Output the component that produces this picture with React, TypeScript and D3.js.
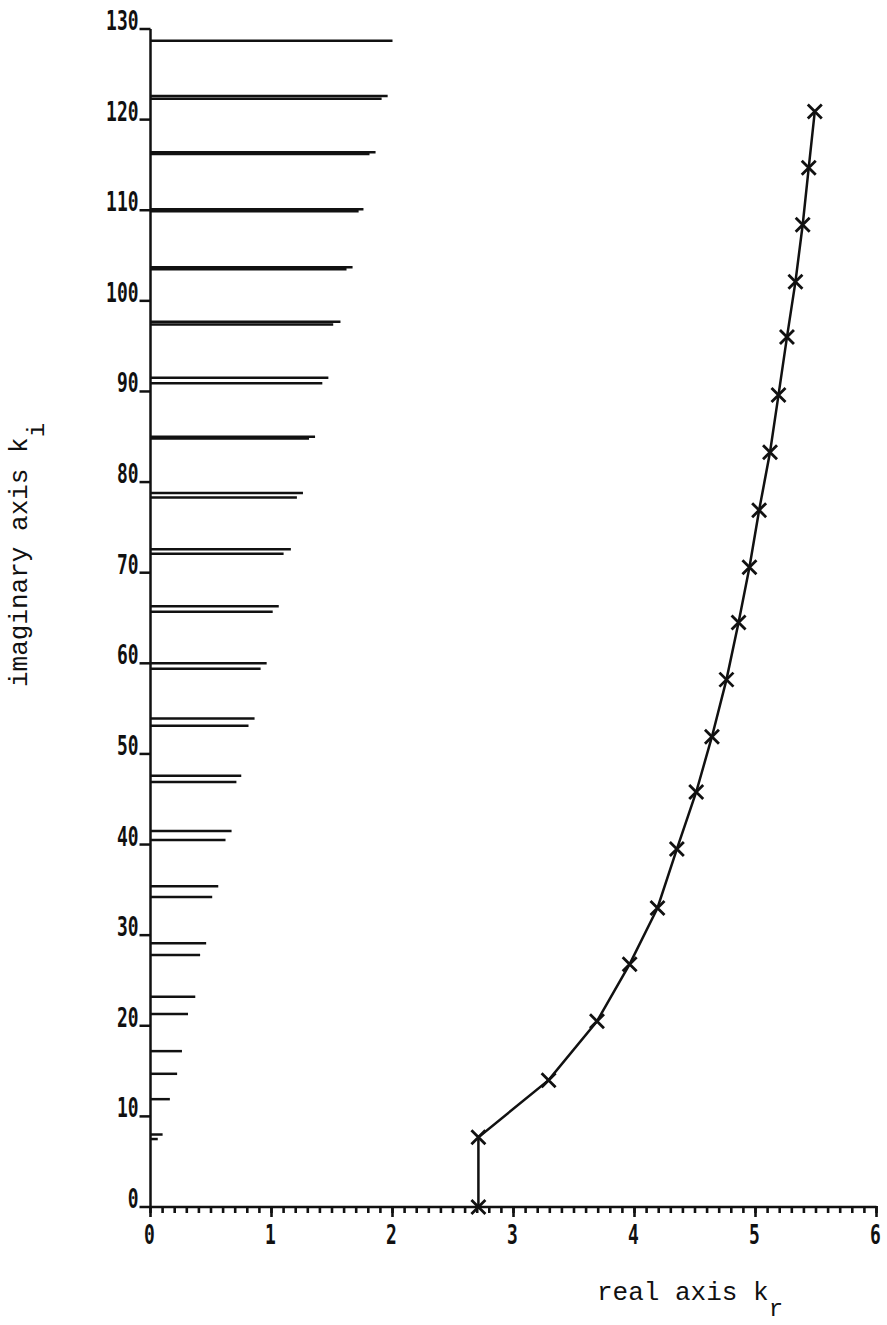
import { useEffect, useRef } from 'react';
import * as d3 from 'd3';

// horizontal segments: imaginary part k_i and real extent k_r
const segImag = [
  128.7, 122.6, 122.3, 116.4, 116.2, 110.1, 109.9, 103.7, 103.5, 97.7, 97.4,
  91.5, 90.9, 85.0, 84.8, 78.8, 78.3, 72.6, 72.1, 66.3, 65.7, 60.0, 59.4,
  53.9, 53.1, 47.6, 46.9, 41.5, 40.5, 35.4, 34.2, 29.1, 27.8, 23.2, 21.3,
  17.2, 14.7, 11.9, 8.0, 7.5,
];
const segReal = [
  2.0, 1.96, 1.91, 1.86, 1.81, 1.76, 1.72, 1.67, 1.62, 1.57, 1.51,
  1.47, 1.42, 1.36, 1.31, 1.26, 1.21, 1.16, 1.10, 1.06, 1.01, 0.96, 0.91,
  0.86, 0.81, 0.75, 0.71, 0.67, 0.62, 0.56, 0.51, 0.46, 0.41, 0.37, 0.31,
  0.26, 0.22, 0.16, 0.1, 0.06,
];

// root locus (marked with crosses)
const locusReal = [
  2.71, 2.71, 3.29, 3.69, 3.96, 4.19, 4.35, 4.51, 4.64, 4.76, 4.86,
  4.95, 5.03, 5.12, 5.19, 5.26, 5.33, 5.39, 5.44, 5.49,
];
const locusImag = [
  0, 7.7, 14.0, 20.5, 26.8, 33.0, 39.5, 45.8, 51.9, 58.2, 64.5,
  70.6, 76.9, 83.3, 89.6, 96.0, 102.1, 108.4, 114.7, 120.9,
];

const xTicks = [0, 1, 2, 3, 4, 5, 6];
const yTicks = [0, 10, 20, 30, 40, 50, 60, 70, 80, 90, 100, 110, 120, 130];

const W = 887;
const H = 1325;
const INK = '#111';
const TICK_FONT = '"DejaVu Sans Mono", monospace';
const LABEL_FONT = '"Liberation Mono", "Courier New", monospace';

export default function App() {
  const ref = useRef<SVGSVGElement>(null);

  useEffect(() => {
    const svg = d3.select(ref.current);
    svg.selectAll('*').remove();

    const x = d3.scaleLinear().domain([0, 6]).range([150.5, 876.5]);
    const y = d3.scaleLinear().domain([0, 130]).range([1207, 29]);

    const g = svg.append('g');

    // axes lines
    g.append('line')
      .attr('x1', x(0)).attr('x2', x(0))
      .attr('y1', y(0)).attr('y2', y(130))
      .attr('stroke', INK).attr('stroke-width', 2.5);
    g.append('line')
      .attr('x1', x(0)).attr('x2', x(6))
      .attr('y1', y(0)).attr('y2', y(0))
      .attr('stroke', INK).attr('stroke-width', 2.5);

    // minor x ticks every 0.1
    const minor = d3.range(0, 61).map(i => i / 10);
    g.selectAll('.minor')
      .data(minor)
      .join('line')
      .attr('x1', d => x(d)).attr('x2', d => x(d))
      .attr('y1', y(0) - 1).attr('y2', y(0) + 6)
      .attr('stroke', INK).attr('stroke-width', 2.6);

    g.selectAll('.major')
      .data(xTicks)
      .join('line')
      .attr('x1', d => x(d)).attr('x2', d => x(d))
      .attr('y1', y(0) - 1).attr('y2', y(0) + 10)
      .attr('stroke', INK).attr('stroke-width', 2.6);

    const numLabel = (sel: any) =>
      sel
        .attr('font-family', TICK_FONT)
        .attr('font-weight', 'bold')
        .attr('font-size', 27)
        .attr('fill', INK)
        .attr('lengthAdjust', 'spacingAndGlyphs')
        .attr('textLength', (d: number) => String(d).length * 10.8);

    g.selectAll('.xl')
      .data(xTicks)
      .join('text')
      .call(numLabel)
      .attr('x', d => x(d) - 1)
      .attr('y', 1244)
      .attr('text-anchor', 'middle')
      .text(d => d);

    // y ticks to the left of the axis
    g.selectAll('.yt')
      .data(yTicks)
      .join('line')
      .attr('x1', x(0) - 11).attr('x2', x(0))
      .attr('y1', d => y(d)).attr('y2', d => y(d))
      .attr('stroke', INK).attr('stroke-width', 2.5);

    g.selectAll('.yl')
      .data(yTicks)
      .join('text')
      .call(numLabel)
      .attr('x', x(0) - 12)
      .attr('y', d => y(d) + 1)
      .attr('text-anchor', 'end')
      .text(d => d);

    // horizontal segments
    g.selectAll('.seg')
      .data(segImag)
      .join('line')
      .attr('x1', x(0))
      .attr('x2', (_, i) => x(segReal[i]))
      .attr('y1', d => y(d)).attr('y2', d => y(d))
      .attr('stroke', INK).attr('stroke-width', 2.5);

    // locus line
    const pts = locusReal.map((r, i) => [r, locusImag[i]] as [number, number]);
    const line = d3.line<[number, number]>()
      .x(d => x(d[0]))
      .y(d => y(d[1]));
    g.append('path')
      .datum(pts)
      .attr('d', line)
      .attr('fill', 'none')
      .attr('stroke', INK).attr('stroke-width', 2.5);

    // cross markers
    const s = 7;
    g.selectAll('.mk')
      .data(pts)
      .join('path')
      .attr('d', d => {
        const cx = x(d[0]);
        const cy = y(d[1]);
        return `M${cx - s},${cy - s}L${cx + s},${cy + s}M${cx + s},${cy - s}L${cx - s},${cy + s}`;
      })
      .attr('stroke', INK).attr('stroke-width', 2.8).attr('fill', 'none');

    // axis titles
    const xt = svg.append('text')
      .attr('font-family', LABEL_FONT)
      .attr('font-size', 26)
      .attr('fill', INK)
      .attr('x', 597).attr('y', 1300);
    xt.append('tspan').text('real axis k');
    xt.append('tspan').attr('dy', 16).attr('font-size', 24).text('r');

    const yt = svg.append('text')
      .attr('font-family', LABEL_FONT)
      .attr('font-size', 26)
      .attr('fill', INK)
      .attr('transform', 'translate(27,687) rotate(-90)');
    yt.append('tspan').text('imaginary axis k');
    yt.append('tspan').attr('dy', 17).attr('font-size', 24).text('i');
  }, []);

  return (
    <svg
      ref={ref}
      width={W}
      height={H}
      style={{ position: 'absolute', left: 0, top: 0, background: '#fff' }}
    />
  );
}
